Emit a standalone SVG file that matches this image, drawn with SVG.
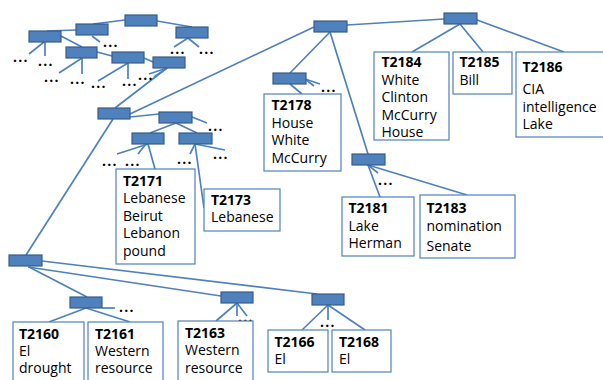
<svg xmlns="http://www.w3.org/2000/svg" width="603" height="380" viewBox="0 0 603 380">
<style>
.n{fill:#4F81BD;stroke:#385D8A;stroke-width:1.2}
.b{fill:#fff;stroke:#4F81BD;stroke-width:1.2}
#connectors line{stroke:#4F81BD;stroke-width:1.7;fill:none}
text{font-family:"Open Sans","Liberation Sans",sans-serif;font-size:14px;fill:#000}
.id{font-weight:bold}
.d{font-weight:bold;font-size:14px;letter-spacing:1.2px}
</style>
<rect width="603" height="380" fill="#fff"/>
<g id="connectors">
<line x1="93" y1="24" x2="125" y2="20"/>
<line x1="157" y1="21" x2="192" y2="27"/>
<line x1="47" y1="31" x2="76" y2="30"/>
<line x1="92" y1="36" x2="100" y2="42"/>
<line x1="44" y1="42" x2="29" y2="54"/>
<line x1="45" y1="42" x2="45" y2="56"/>
<line x1="61" y1="36" x2="82" y2="47"/>
<line x1="82" y1="58" x2="59" y2="73"/>
<line x1="82" y1="58" x2="82" y2="74"/>
<line x1="97" y1="52" x2="112" y2="56"/>
<line x1="128" y1="63" x2="98" y2="81"/>
<line x1="128" y1="63" x2="128" y2="79"/>
<line x1="144" y1="58" x2="153" y2="62"/>
<line x1="167" y1="68" x2="149" y2="74"/>
<line x1="167" y1="68" x2="154" y2="77"/>
<line x1="167" y1="68" x2="115" y2="108"/>
<line x1="188" y1="38" x2="174" y2="47"/>
<line x1="188" y1="38" x2="199" y2="47"/>
<line x1="314" y1="27" x2="130" y2="114"/>
<line x1="130" y1="117" x2="159" y2="114"/>
<line x1="113" y1="119" x2="26" y2="255"/>
<line x1="176" y1="123" x2="150" y2="133"/>
<line x1="176" y1="123" x2="197" y2="133"/>
<line x1="192" y1="117" x2="207" y2="123"/>
<line x1="148" y1="144" x2="117" y2="154"/>
<line x1="146" y1="144" x2="138" y2="154"/>
<line x1="148" y1="144" x2="155" y2="169"/>
<line x1="195" y1="144" x2="190" y2="154"/>
<line x1="195" y1="144" x2="225" y2="150"/>
<line x1="195" y1="144" x2="204" y2="208"/>
<line x1="347" y1="25" x2="444" y2="19"/>
<line x1="330" y1="32" x2="290" y2="73"/>
<line x1="330" y1="32" x2="368" y2="154"/>
<line x1="290" y1="84" x2="302" y2="94"/>
<line x1="305" y1="79" x2="320" y2="84"/>
<line x1="305" y1="79" x2="314" y2="86"/>
<line x1="460" y1="24" x2="412" y2="52"/>
<line x1="460" y1="24" x2="483" y2="52"/>
<line x1="477" y1="20" x2="564" y2="52"/>
<line x1="368" y1="165" x2="380" y2="197"/>
<line x1="368" y1="165" x2="467" y2="195"/>
<line x1="368" y1="165" x2="378" y2="173"/>
<line x1="42" y1="261" x2="317" y2="294"/>
<line x1="28" y1="267" x2="221" y2="296"/>
<line x1="29" y1="267" x2="87" y2="297"/>
<line x1="86" y1="308" x2="49" y2="322"/>
<line x1="86" y1="308" x2="130" y2="322"/>
<line x1="102" y1="308" x2="115" y2="308"/>
<line x1="237" y1="303" x2="216" y2="321"/>
<line x1="237" y1="303" x2="237" y2="316"/>
<line x1="237" y1="303" x2="247" y2="316"/>
<line x1="328" y1="305" x2="302" y2="330"/>
<line x1="328" y1="305" x2="365" y2="330"/>
<line x1="328" y1="305" x2="328" y2="320"/>
</g>
<g id="dots">
<text class="d" x="103" y="47">...</text>
<text class="d" x="13" y="62">...</text>
<text class="d" x="38" y="66">...</text>
<text class="d" x="44" y="82">...</text>
<text class="d" x="70" y="84">...</text>
<text class="d" x="91" y="88">...</text>
<text class="d" x="122" y="86">...</text>
<text class="d" x="138" y="80">...</text>
<text class="d" x="170" y="54">...</text>
<text class="d" x="199" y="54">...</text>
<text class="d" x="208" y="131">...</text>
<text class="d" x="102" y="166">...</text>
<text class="d" x="125" y="166">...</text>
<text class="d" x="177" y="164">...</text>
<text class="d" x="213" y="159">...</text>
<text class="d" x="321" y="92">...</text>
<text class="d" x="378" y="185">...</text>
<text class="d" x="119" y="312">...</text>
<text class="d" x="238" y="322">...</text>
<text class="d" x="320" y="327">...</text>
</g>
<g id="nA"><rect class="n" x="125" y="15" width="32" height="11"/></g>
<g id="nB"><rect class="n" x="76" y="24" width="32" height="11"/></g>
<g id="nC"><rect class="n" x="29" y="31" width="32" height="11"/></g>
<g id="nD"><rect class="n" x="176" y="27" width="32" height="11"/></g>
<g id="nE"><rect class="n" x="66" y="47" width="31" height="11"/></g>
<g id="nF"><rect class="n" x="112" y="52" width="32" height="11"/></g>
<g id="nG"><rect class="n" x="153" y="57" width="32" height="11"/></g>
<g id="nH"><rect class="n" x="98" y="108" width="32" height="11"/></g>
<g id="nI"><rect class="n" x="159" y="112" width="33" height="11"/></g>
<g id="nJ"><rect class="n" x="132" y="133" width="32" height="11"/></g>
<g id="nK"><rect class="n" x="179" y="133" width="33" height="11"/></g>
<g id="nM"><rect class="n" x="314" y="21" width="33" height="11"/></g>
<g id="nN"><rect class="n" x="444" y="13" width="33" height="11"/></g>
<g id="nO"><rect class="n" x="273" y="73" width="33" height="11"/></g>
<g id="nP"><rect class="n" x="352" y="154" width="33" height="11"/></g>
<g id="nL"><rect class="n" x="9" y="255" width="33" height="11"/></g>
<g id="nQ"><rect class="n" x="70" y="297" width="32" height="11"/></g>
<g id="nR"><rect class="n" x="221" y="292" width="32" height="11"/></g>
<g id="nS"><rect class="n" x="312" y="294" width="32" height="11"/></g>
<g id="T2171"><rect class="b" x="116" y="169" width="79" height="95"/>
<text x="123" y="186"><tspan class="id">T2171</tspan><tspan x="123" dy="17.4">Lebanese</tspan><tspan x="123" dy="17.4">Beirut</tspan><tspan x="123" dy="17.4">Lebanon</tspan><tspan x="123" dy="17.4">pound</tspan></text></g>
<g id="T2173"><rect class="b" x="204" y="189" width="76" height="42"/>
<text x="211" y="205"><tspan class="id">T2173</tspan><tspan x="211" dy="17.4">Lebanese</tspan></text></g>
<g id="T2178"><rect class="b" x="264" y="94" width="77" height="77"/>
<text x="271.5" y="110"><tspan class="id">T2178</tspan><tspan x="271.5" dy="17.7">House</tspan><tspan x="271.5" dy="17.7">White</tspan><tspan x="271.5" dy="17.7">McCurry</tspan></text></g>
<g id="T2184"><rect class="b" x="374" y="52" width="75" height="88"/>
<text x="381.5" y="67"><tspan class="id">T2184</tspan><tspan x="381.5" dy="17.6">White</tspan><tspan x="381.5" dy="17.6">Clinton</tspan><tspan x="381.5" dy="17.6">McCurry</tspan><tspan x="381.5" dy="17.6">House</tspan></text></g>
<g id="T2185"><rect class="b" x="453" y="52" width="59" height="42"/>
<text x="459.5" y="67"><tspan class="id">T2185</tspan><tspan x="459.5" dy="18">Bill</tspan></text></g>
<g id="T2186"><rect class="b" x="516" y="52" width="90" height="85"/>
<text x="522.5" y="72"><tspan class="id">T2186</tspan><tspan x="522.5" dy="21.5">CIA</tspan><tspan x="522.5" dy="18">intelligence</tspan><tspan x="522.5" dy="17.4">Lake</tspan></text></g>
<g id="T2181"><rect class="b" x="342" y="197" width="72" height="59"/>
<text x="348.5" y="213"><tspan class="id">T2181</tspan><tspan x="348.5" dy="17.5">Lake</tspan><tspan x="348.5" dy="17.5">Herman</tspan></text></g>
<g id="T2183"><rect class="b" x="420" y="195" width="95" height="63"/>
<text x="426.5" y="213"><tspan class="id">T2183</tspan><tspan x="426.5" dy="17.5">nomination</tspan><tspan x="426.5" dy="20.5">Senate</tspan></text></g>
<g id="T2160"><rect class="b" x="13" y="322" width="71" height="64"/>
<text x="19" y="338.5"><tspan class="id">T2160</tspan><tspan x="19" dy="17.4">El</tspan><tspan x="19" dy="17.4">drought</tspan></text></g>
<g id="T2161"><rect class="b" x="88" y="322" width="75" height="64"/>
<text x="95" y="338.5"><tspan class="id">T2161</tspan><tspan x="95" dy="17.4">Western</tspan><tspan x="95" dy="17.4">resource</tspan></text></g>
<g id="T2163"><rect class="b" x="178" y="321" width="75" height="65"/>
<text x="185" y="338"><tspan class="id">T2163</tspan><tspan x="185" dy="17.4">Western</tspan><tspan x="185" dy="17.4">resource</tspan></text></g>
<g id="T2166"><rect class="b" x="268" y="330" width="60" height="42"/>
<text x="274.5" y="346.5"><tspan class="id">T2166</tspan><tspan x="274.5" dy="17.4">El</tspan></text></g>
<g id="T2168"><rect class="b" x="332" y="330" width="59" height="42"/>
<text x="339" y="346.5"><tspan class="id">T2168</tspan><tspan x="339" dy="17.4">El</tspan></text></g>
</svg>
